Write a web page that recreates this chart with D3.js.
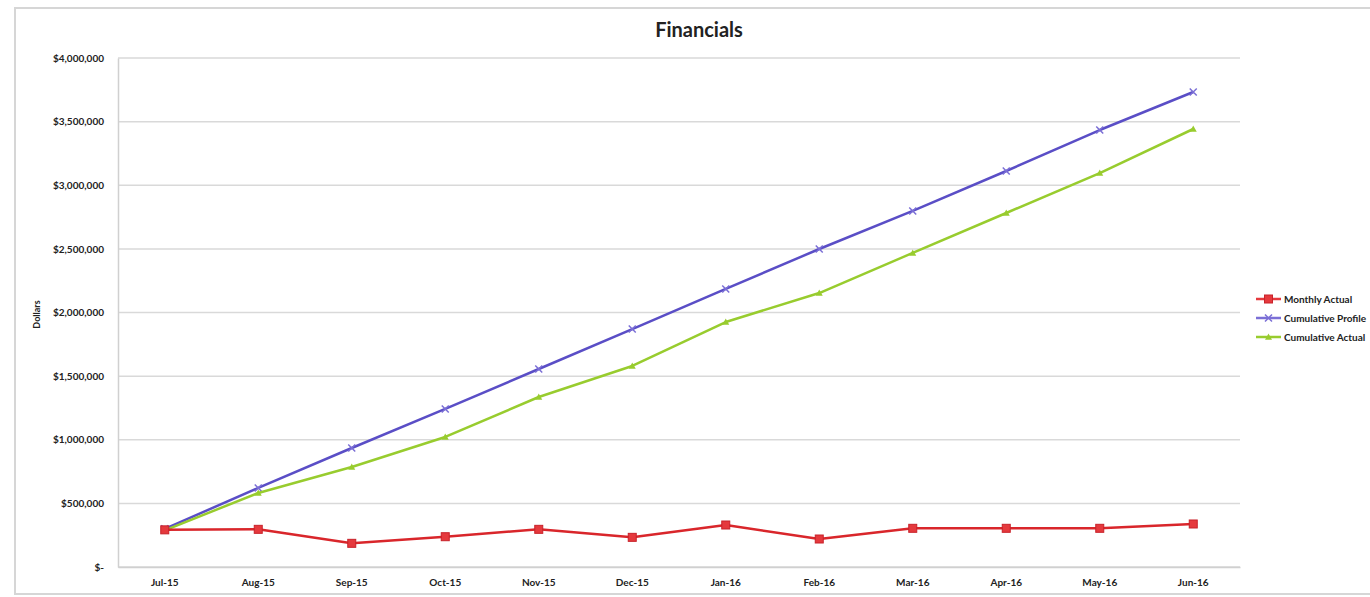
<!DOCTYPE html>
<html>
<head>
<meta charset="utf-8">
<script src="https://cdn.jsdelivr.net/npm/d3@7"></script>
<style>
  html, body { margin: 0; padding: 0; background: #fff; }
  svg { display: block; font-family: Lato, "Open Sans", "DejaVu Sans", sans-serif; }
</style>
</head>
<body>
<svg id="chart" width="1370" height="597"></svg>
<script>
// Months of the financial year
const months = ["Jul-15", "Aug-15", "Sep-15", "Oct-15", "Nov-15", "Dec-15",
                "Jan-16", "Feb-16", "Mar-16", "Apr-16", "May-16", "Jun-16"];

// Dollar amounts per month
const monthlyActual = [292000, 296000, 186000, 238000, 296000, 233000,
                       330000, 220000, 304000, 304000, 304000, 338000];
const cumulativeProfile = [300000, 621000, 935000, 1242000, 1556000, 1870000,
                           2185000, 2499000, 2798000, 3112000, 3434000, 3733000];
const cumulativeActual = [288000, 582000, 786000, 1022000, 1336000, 1580000,
                          1925000, 2153000, 2468000, 2782000, 3096000, 3442000];

const yTicks = [0, 500000, 1000000, 1500000, 2000000, 2500000, 3000000, 3500000, 4000000];

const series = [
  { name: "Monthly Actual", values: monthlyActual, color: "#d9262b", marker: "#e5393d", shape: "square" },
  { name: "Cumulative Profile", values: cumulativeProfile, color: "#5a4ec6", marker: "#7b6fd6", shape: "cross" },
  { name: "Cumulative Actual", values: cumulativeActual, color: "#98cc2e", marker: "#98cc2e", shape: "triangle" }
];

const svg = d3.select("#chart");
const W = 1370, H = 597;
const plot = { left: 118, right: 1240, top: 58, bottom: 567 };

// Outer chart frame
svg.append("rect")
  .attr("x", 15).attr("y", 8)
  .attr("width", W + 10).attr("height", 586)
  .attr("fill", "#fff").attr("stroke", "#d6d6d6").attr("stroke-width", 2);

const x = d3.scaleBand().domain(months).range([plot.left, plot.right]);
const y = d3.scaleLinear().domain([0, 4000000]).range([plot.bottom, plot.top]);

const fmt = v => v === 0 ? "$-" : "$" + d3.format(",")(v);

// Horizontal gridlines
svg.append("g")
  .selectAll("line")
  .data(yTicks)
  .join("line")
  .attr("x1", plot.left).attr("x2", plot.right)
  .attr("y1", d => y(d)).attr("y2", d => y(d))
  .attr("stroke", "#d9d9d9").attr("stroke-width", 1.5);

// Y axis
const yAxis = svg.append("g")
  .attr("transform", `translate(${plot.left},0)`)
  .call(d3.axisLeft(y).tickValues(yTicks).tickFormat(fmt).tickSize(0).tickPadding(14));
yAxis.select(".domain").attr("stroke", "#d0d0d0").attr("stroke-width", 1.5);
yAxis.selectAll("text")
  .attr("font-size", 10).attr("font-weight", "bold").attr("fill", "#222")
  .attr("font-family", "Lato, 'Open Sans', sans-serif");

// X axis
const xAxis = svg.append("g")
  .attr("transform", `translate(0,${plot.bottom})`)
  .call(d3.axisBottom(x).tickSize(0).tickPadding(12));
xAxis.select(".domain").attr("stroke", "#d0d0d0").attr("stroke-width", 1.5);
xAxis.selectAll("text")
  .attr("font-size", 10).attr("font-weight", "bold").attr("fill", "#222")
  .attr("font-family", "Lato, 'Open Sans', sans-serif");

// Axis title
svg.append("text")
  .attr("transform", `translate(40,${(plot.top + plot.bottom) / 2 + 2}) rotate(-90)`)
  .attr("text-anchor", "middle")
  .attr("font-size", 9).attr("font-weight", "bold").attr("fill", "#222")
  .text("Dollars");

// Chart title
svg.append("text")
  .attr("x", 699).attr("y", 37)
  .attr("text-anchor", "middle")
  .attr("font-size", 20).attr("font-weight", "bold").attr("fill", "#222")
  .text("Financials");

const cx = d => x(d) + x.bandwidth() / 2;

function drawMarker(g, shape, color, px, py, s) {
  if (shape === "square") {
    g.append("rect")
      .attr("x", px - s / 2).attr("y", py - s / 2)
      .attr("width", s).attr("height", s)
      .attr("fill", color).attr("stroke", "#c8222a").attr("stroke-width", 1);
  } else if (shape === "cross") {
    const h = s / 2;
    g.append("path")
      .attr("d", `M${px - h},${py - h}L${px + h},${py + h}M${px - h},${py + h}L${px + h},${py - h}`)
      .attr("stroke", color).attr("stroke-width", 1.5).attr("fill", "none");
  } else {
    const h = s / 2;
    g.append("path")
      .attr("d", `M${px},${py - h}L${px + h},${py + h * 0.8}L${px - h},${py + h * 0.8}Z`)
      .attr("fill", color);
  }
}

// Draw series: cumulative lines first, monthly on top
const line = d3.line().x((d, i) => cx(months[i])).y(d => y(d));
[series[1], series[2], series[0]].forEach(s => {
  const g = svg.append("g");
  g.append("path")
    .attr("d", line(s.values))
    .attr("fill", "none").attr("stroke", s.color).attr("stroke-width", 2.5)
    .attr("stroke-linejoin", "round");
  s.values.forEach((v, i) => drawMarker(g, s.shape, s.marker, cx(months[i]), y(v), s.shape === "square" ? 8 : 7));
});

// Legend
const legend = svg.append("g");
series.forEach((s, i) => {
  const ly = 299 + i * 19;
  const g = legend.append("g");
  g.append("line")
    .attr("x1", 1256).attr("x2", 1281).attr("y1", ly).attr("y2", ly)
    .attr("stroke", s.marker).attr("stroke-width", 2.5);
  drawMarker(g, s.shape, s.marker, 1268.5, ly, s.shape === "square" ? 8 : 7);
  g.append("text")
    .attr("x", 1284).attr("y", ly + 3.5)
    .attr("font-size", 10).attr("font-weight", "bold").attr("fill", "#222")
    .text(s.name);
});
</script>
</body>
</html>
